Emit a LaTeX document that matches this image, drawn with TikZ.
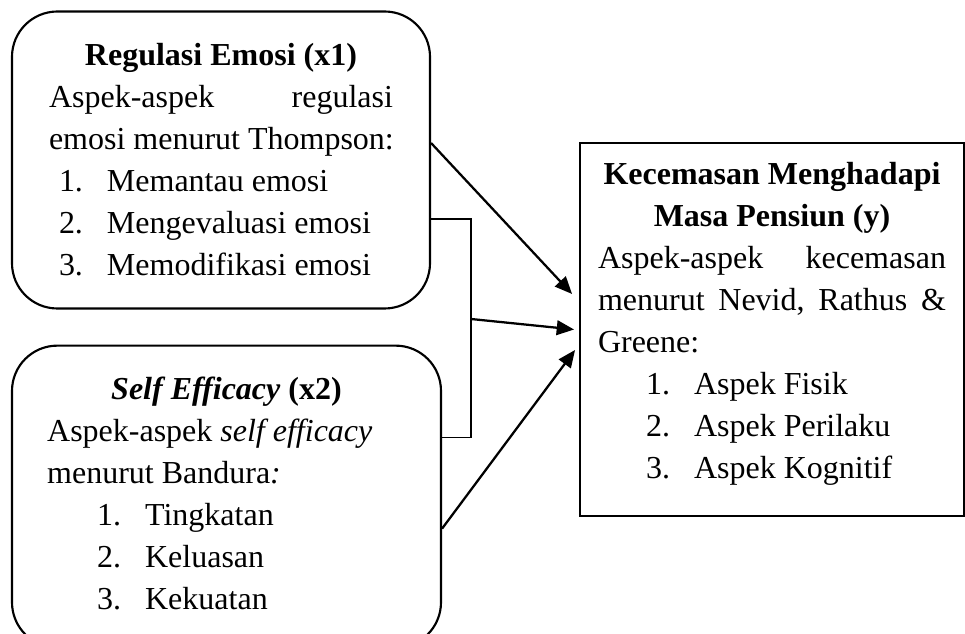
\documentclass[tikz,border=0pt]{standalone}
\usepackage{fontspec}
\setmainfont{Liberation Serif}
\usepackage{tikz}
\usetikzlibrary{arrows.meta,positioning,calc}
\newcommand{\butir}[3]{\hspace*{#1}\makebox[36pt][l]{#2.}#3}
\tikzset{
  roundbox/.style={draw=black,line width=1.6pt,rounded corners=34pt,align=justify,
              font=\fontsize{24pt}{31.5pt}\selectfont,inner sep=0pt},
  plainbox/.style={draw=black,line width=1.4pt,align=justify,
              font=\fontsize{24pt}{31.5pt}\selectfont,inner sep=0pt},
  flow/.style={-{Triangle[length=13pt,width=11pt]},line width=1.7pt,draw=black},
  bracket/.style={line width=0.8pt,draw=black}
}
\begin{document}
\begin{tikzpicture}[x=0.75pt,y=-0.75pt]
  \path[use as bounding box,clip] (0,0) rectangle (965,634);
  \node[roundbox,minimum width=313.5pt,minimum height=222.75pt,text width=258pt] (emosi) at (221,160)
    {\makebox[\linewidth]{\textbf{Regulasi Emosi (x1)}}\\
     \makebox[\linewidth][s]{Aspek-aspek\hfill regulasi}\\
     \mbox{emosi menurut Thompson:}\\
     \butir{7.5pt}{1}{Memantau emosi}\\
     \butir{7.5pt}{2}{Mengevaluasi emosi}\\
     \butir{7.5pt}{3}{Memodifikasi emosi}};
  \node[roundbox,minimum width=321.75pt,minimum height=226.5pt,text width=269pt,text depth=162pt,
        below right=26.25pt and 0pt of emosi.south west] (efikasi)
    {\makebox[\linewidth]{\textbf{\textit{Self Efficacy} (x2)}}\\
     \mbox{Aspek-aspek \textit{self efficacy}}\\
     menurut Bandura\textit{:}\\
     \butir{37.5pt}{1}{Tingkatan}\\
     \butir{37.5pt}{2}{Keluasan}\\
     \butir{37.5pt}{3}{Kekuatan}};
  \node[plainbox,minimum width=288pt,minimum height=279.75pt,text width=261pt,text depth=233.5pt] (kecemasan) at (772,329.5)
    {\makebox[\linewidth]{\textbf{Kecemasan Menghadapi}}\\
     \makebox[\linewidth]{\textbf{Masa Pensiun (y)}}\\
     \makebox[\linewidth][s]{Aspek-aspek\hfill kecemasan}\\
     \makebox[\linewidth][s]{menurut\hfill Nevid,\hfill Rathus\hfill \&}\\
     Greene:\\
     \butir{36pt}{1}{Aspek Fisik}\\
     \butir{36pt}{2}{Aspek Perilaku}\\
     \butir{36pt}{3}{Aspek Kognitif}};
  \coordinate (kurung) at (471,319);
  \draw[bracket] ($(emosi.east)+(0,59)$) -| (kurung) |- ($(efikasi.east)+(0,-59)$);
  \draw[flow] ($(emosi.east)+(0,-17)$) -- ($(kecemasan.west)+(-7,-35.5)$);
  \draw[flow] (kurung) -- ($(kecemasan.west)+(-5,0)$);
  \draw[flow] ($(efikasi.east)+(0,32)$) -- ($(kecemasan.west)+(-4,20.5)$);
\end{tikzpicture}
\end{document}
